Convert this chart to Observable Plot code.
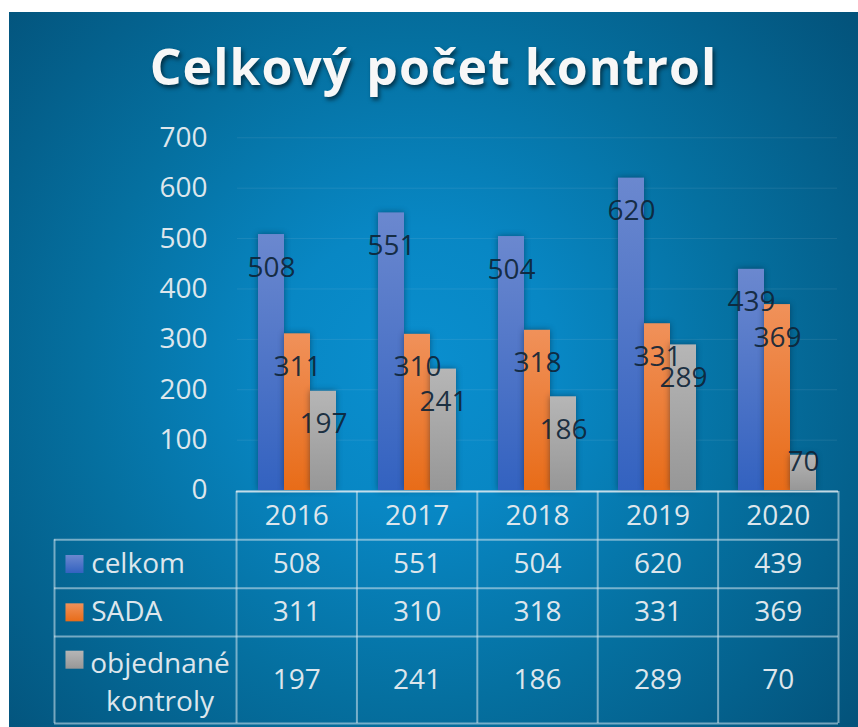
<!DOCTYPE html>
<html><head><meta charset="utf-8">
<script src="https://cdn.jsdelivr.net/npm/d3@7"></script>
<script src="https://cdn.jsdelivr.net/npm/@observablehq/plot@0.6"></script>
<style>
html,body{margin:0;padding:0;background:#fff}
body{width:858px;height:727px;overflow:hidden;position:relative;font-family:"Open Sans",sans-serif}
#panel{position:absolute;left:9px;top:12px;width:849px;height:715px;
  background:radial-gradient(circle farthest-corner at 48% 50%, #0a8fcf 0%, #0887c4 25%, #0570a0 58%, #03527a 100%)}
#title{position:absolute;left:9px;width:849px;top:41px;text-align:center;font-weight:700;font-size:50px;line-height:1;
  color:#f7f7f7;letter-spacing:1px;text-shadow:2px 3px 4px rgba(0,0,0,.55);white-space:nowrap}
#chart{position:absolute;left:0;top:100px}
#table{position:absolute;left:0;top:480px}
.bars{filter:drop-shadow(0 0 3px rgba(0,20,40,.45))}
</style></head><body>
<svg width="0" height="0" style="position:absolute">
  <defs>
    <linearGradient id="gBlue" x1="0" y1="0" x2="0" y2="1"><stop offset="0" stop-color="#6b88cf"/><stop offset="1" stop-color="#3362c0"/></linearGradient>
    <linearGradient id="gOrange" x1="0" y1="0" x2="0" y2="1"><stop offset="0" stop-color="#f0915a"/><stop offset="1" stop-color="#e86c18"/></linearGradient>
    <linearGradient id="gGray" x1="0" y1="0" x2="0" y2="1"><stop offset="0" stop-color="#b6b6b6"/><stop offset="1" stop-color="#979797"/></linearGradient>
  </defs>
</svg>
<div id="panel"></div>
<div id="title">Celkový počet kontrol</div>
<div id="chart"></div>
<div id="table"></div>
<script>
// ---- data ----
const years = ["2016", "2017", "2018", "2019", "2020"];
const seriesNames = ["celkom", "SADA", "objednané kontroly"];
const celkom = [508, 551, 504, 620, 439];
const sada = [311, 310, 318, 331, 369];
const objednane = [197, 241, 186, 289, 70];
const yTicks = [0, 100, 200, 300, 400, 500, 600, 700];

// ---- styling / layout ----
const fills = {"celkom": "url(#gBlue)", "SADA": "url(#gOrange)", "objednané kontroly": "url(#gGray)"};
const lightText = "#dde6ec";
const darkText = "#0e2437";
const FS = 28;

const seriesValues = [celkom, sada, objednane];
const rows = [];
years.forEach((y, i) => seriesNames.forEach((s, k) => rows.push({year: y, series: s, value: seriesValues[k][i]})));

const chart = Plot.plot({
  width: 858, height: 395,
  marginLeft: 236, marginRight: 20, marginTop: 37.3, marginBottom: 5,
  style: {background: "transparent", fontFamily: "'Open Sans', sans-serif", fontSize: FS + "px", color: lightText, overflow: "visible"},
  fx: {domain: years, padding: 0, axis: null},
  x: {domain: seriesNames, paddingInner: 0, paddingOuter: 0.73, axis: null},
  y: {domain: [0, 700], ticks: yTicks, tickSize: 0, tickPadding: 30, grid: true, label: null, tickFormat: d => String(d)},
  marks: [
    ...seriesNames.map(s => Plot.barY(rows.filter(d => d.series === s), {
      fx: "year", x: "series", y: "value", fill: fills[s], className: "bars"
    })),
    // labels placed "inside end", kept above the baseline for short bars
    Plot.text(rows, {
      fx: "year", x: "series", y: d => Math.max(d.value - 65.5, 55.6),
      text: d => String(d.value), fill: darkText, fillOpacity: 0.92, fontSize: FS
    })
  ]
});
document.getElementById("chart").append(chart);

// ---- data table (drawn in column / row units) ----
const labelCol = 1.512;     // width of the legend column, in year-column units
const rowEdges = [0, 1, 2, 3, 4.8];
const hLines = rowEdges.map((y, i) => ({y, x1: i === 0 ? 0 : -labelCol, x2: years.length}));
const vLines = [{x: -labelCol, y1: 1, y2: 4.8}, ...d3.range(years.length + 1).map(x => ({x, y1: 0, y2: 4.8}))];
const tableRows = seriesNames.map((s, k) => ({name: s, values: seriesValues[k], yc: (rowEdges[k + 1] + rowEdges[k + 2]) / 2}));
const cells = [];
tableRows.forEach(r => r.values.forEach((v, i) => cells.push({col: i + 0.5, yc: r.yc, v})));

const table = Plot.plot({
  width: 858, height: 247,
  marginLeft: 54, marginRight: 20, marginTop: 11, marginBottom: 4,
  style: {background: "transparent", fontFamily: "'Open Sans', sans-serif", fontSize: FS + "px", color: lightText, overflow: "visible"},
  x: {domain: [-labelCol, years.length], axis: null},
  y: {domain: [0, 4.8], reverse: true, axis: null},
  marks: [
    Plot.ruleY(hLines.slice(1), {y: "y", x1: "x1", x2: "x2", stroke: "#d6e6ef", strokeOpacity: 0.55, strokeWidth: 2}),
    Plot.ruleX(vLines, {x: "x", y1: "y1", y2: "y2", stroke: "#d6e6ef", strokeOpacity: 0.55, strokeWidth: 2}),
    Plot.ruleY(hLines.slice(0, 1), {y: "y", x1: "x1", x2: "x2", stroke: "#e4edf2", strokeOpacity: 0.85, strokeWidth: 2}),
    Plot.text(years, {x: (d, i) => i + 0.5, y: 0.5, text: d => d, fill: lightText, fontSize: FS}),
    Plot.text(cells, {x: "col", y: "yc", text: d => String(d.v), fill: lightText, fontSize: FS}),
    Plot.dot(tableRows, {x: -labelCol + 0.166, y: (d, k) => k === 2 ? 3.48 : d.yc, symbol: "square", r: 10.16,
      fill: d => fills[d.name], stroke: "none"}),
    Plot.text(tableRows.slice(0, 2), {x: -labelCol + 0.305, y: "yc", text: "name", textAnchor: "start", fill: lightText, fontSize: FS}),
    Plot.text(tableRows.slice(2), {x: -labelCol + 0.876, y: "yc", text: d => d.name.replace(" ", "\n"),
      textAnchor: "middle", lineHeight: 1.36, fill: lightText, fontSize: FS})
  ]
});
document.getElementById("table").append(table);
</script>
</body></html>
